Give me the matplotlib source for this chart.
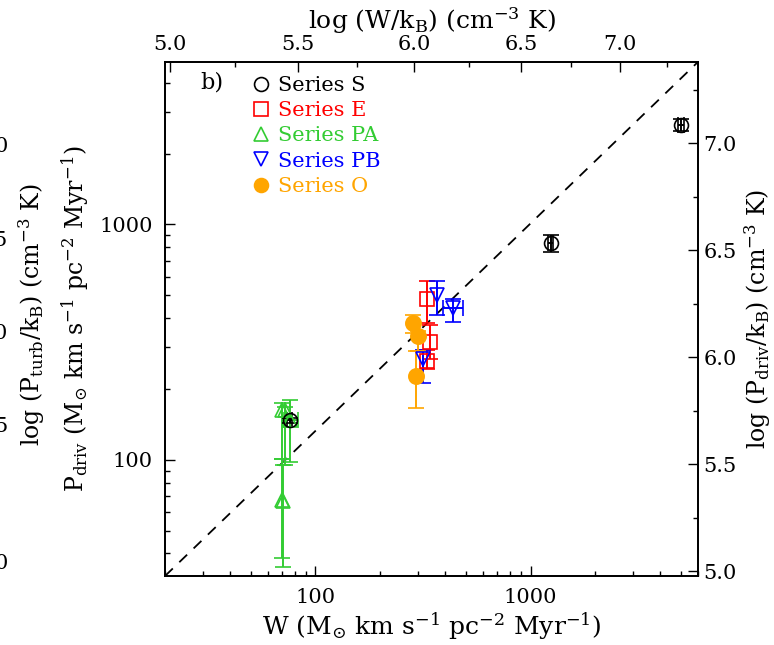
import matplotlib
matplotlib.use('Agg')
import matplotlib.pyplot as plt
import numpy as np
from matplotlib.lines import Line2D
from matplotlib.ticker import FixedLocator, FixedFormatter, NullFormatter, LogLocator

plt.rcParams['font.family'] = 'DejaVu Serif'
plt.rcParams['mathtext.fontset'] = 'dejavuserif'

# Series S (black open circles)
s_w = [76, 1240, 4980]
s_w_lo = [74, 1207, 4820]
s_w_hi = [78, 1274, 5150]
s_p = [147, 830, 2638]
s_p_lo = [143, 767, 2489]
s_p_hi = [151, 898, 2799]

# Series E (red open squares)
e_w = [329, 341, 329]
e_p = [480, 318, 262]
e_p_lo = [383, 267, 242]
e_p_hi = [574, 375, 294]

# Series PA (green up triangles)
pa_w = [70, 72.5, 70, 71, 76]
pa_w_lo = [70, 72.5, 70, 71, 70.6]
pa_w_hi = [70, 72.5, 70, 71, 83]
pa_p = [163, 162, 67.6, 67, 147]
pa_p_lo = [101, 95, 38.3, 35.1, 98]
pa_p_hi = [175, 168, 101, 95, 180]

# Series PB (blue down triangles)
pb_w = [366, 437, 317]
pb_w_lo = [366, 392, 317]
pb_w_hi = [366, 485, 317]
pb_p = [503, 443, 267]
pb_p_lo = [414, 384, 213]
pb_p_hi = [574, 484, 294]

# Series O (orange filled circles)
o_w = [285, 301, 293]
o_p = [382, 335, 228]
o_p_lo = [347, 289, 166]
o_p_hi = [414, 352, 289]

# reference line
line_w = [20, 6000]
line_p = [32.1, 4900]

labels = ['Series S', 'Series E', 'Series PA', 'Series PB', 'Series O']
colors = ['black', '#ff0000', '#33cc33', '#0000ff', '#ffa500']

top_ticks = [5.0, 5.5, 6.0, 6.5, 7.0]
right_ticks = [5.0, 5.5, 6.0, 6.5, 7.0]
left_cut_labels = ['7.0', '6.5', '6.0', '5.5', '5.0']


def err(v, lo, hi):
    v = np.array(v, float)
    return [v - np.array(lo, float), np.array(hi, float) - v]


fig = plt.figure(figsize=(7.74, 6.45), dpi=100)
ax = fig.add_axes([0.2132, 0.107, 0.6886, 0.797])
ax.set_xscale('log')
ax.set_yscale('log')
ax.set_xlim(20, 6000)
ax.set_ylim(32.1, 4900)

ax.plot(line_w, line_p, 'k--', lw=1.3, dashes=(6, 5))

eb = dict(ls='none', capsize=6, elinewidth=1.4, capthick=1.4, mew=1.2)
ax.errorbar(pa_w, pa_p, xerr=err(pa_w, pa_w_lo, pa_w_hi), yerr=err(pa_p, pa_p_lo, pa_p_hi),
            marker='^', ms=10, mfc='none', color=colors[2], **eb)
ax.errorbar(s_w, s_p, xerr=err(s_w, s_w_lo, s_w_hi), yerr=err(s_p, s_p_lo, s_p_hi),
            marker='o', ms=10, mfc='none', color=colors[0], **eb)
ax.errorbar(e_w, e_p, yerr=err(e_p, e_p_lo, e_p_hi),
            marker='s', ms=10, mfc='none', color=colors[1], **eb)
ax.errorbar(pb_w, pb_p, xerr=err(pb_w, pb_w_lo, pb_w_hi), yerr=err(pb_p, pb_p_lo, pb_p_hi),
            marker='v', ms=10, mfc='none', color=colors[3], **eb)
ax.errorbar(o_w, o_p, yerr=err(o_p, o_p_lo, o_p_hi),
            marker='o', ms=11, color=colors[4], **eb)

fs = 15
lfs = 17
tk = dict(direction='in', which='major', length=7, width=1)
tkm = dict(direction='in', which='minor', length=3.5, width=1)

ax.xaxis.set_major_locator(FixedLocator([100, 1000]))
ax.xaxis.set_major_formatter(FixedFormatter(['100', '1000']))
ax.yaxis.set_major_locator(FixedLocator([100, 1000]))
ax.yaxis.set_major_formatter(FixedFormatter(['100', '1000']))
ax.xaxis.set_minor_locator(LogLocator(subs=np.arange(2, 10)))
ax.yaxis.set_minor_locator(LogLocator(subs=np.arange(2, 10)))
ax.xaxis.set_minor_formatter(NullFormatter())
ax.yaxis.set_minor_formatter(NullFormatter())
ax.tick_params(axis='both', labelsize=fs, top=False, right=False, pad=9, **tk)
ax.tick_params(axis='both', top=False, right=False, **tkm)
ax.set_xlabel(r'W (M$_{\odot}$ km s$^{-1}$ pc$^{-2}$ Myr$^{-1}$)', fontsize=18, labelpad=2)
ax.set_ylabel(r'P$_{\rm driv}$ (M$_{\odot}$ km s$^{-1}$ pc$^{-2}$ Myr$^{-1}$)', fontsize=lfs, labelpad=6)

# top axis
axt = ax.twiny()
axt.set_xscale('log')
axt.set_xlim(4.981, 7.42)
axt.xaxis.set_major_locator(FixedLocator(top_ticks))
axt.xaxis.set_major_formatter(FixedFormatter(['%.1f' % t for t in top_ticks]))
axt.xaxis.set_minor_locator(FixedLocator([5.25, 5.75, 6.25, 6.75, 7.25]))
axt.xaxis.set_minor_formatter(NullFormatter())
axt.tick_params(axis='x', labelsize=fs, pad=6, **tk)
axt.tick_params(axis='x', **tkm)
axt.set_xlabel(r'log (W/k$_{\rm B}$) (cm$^{-3}$ K)', fontsize=18, labelpad=4)

# right axis
axr = ax.twinx()
axr.set_ylim(4.977, 7.38)
axr.yaxis.set_major_locator(FixedLocator(right_ticks))
axr.yaxis.set_major_formatter(FixedFormatter(['%.1f' % t for t in right_ticks]))
axr.yaxis.set_minor_locator(FixedLocator(np.arange(5.25, 7.3, 0.5)))
axr.tick_params(axis='y', labelsize=fs, pad=4, **tk)
axr.tick_params(axis='y', **tkm)
axr.set_ylabel(r'log (P$_{\rm driv}$/k$_{\rm B}$) (cm$^{-3}$ K)', fontsize=lfs, labelpad=4)

for a in (ax, axt, axr):
    for sp in a.spines.values():
        sp.set_linewidth(1.1)

# legend
markers = ['o', 's', '^', 'v', 'o']
handles = [Line2D([], [], ls='none', marker=m, ms=10, mew=1.2, color=c,
                  mfc=(c if i == 4 else 'none')) for i, (m, c) in enumerate(zip(markers, colors))]
ax.legend(handles, labels, loc='upper left', bbox_to_anchor=(0.165, 0.973), frameon=False,
          fontsize=15, labelcolor=colors, handlelength=0.75, handletextpad=0.45,
          borderpad=0, borderaxespad=0, labelspacing=0.30)
ax.text(0.0876, 0.959, 'b)', transform=ax.transAxes, fontsize=16, ha='center', va='center')

# cut-off labels from the neighbouring panel
fig.text(0.041, 0.512, r'log (P$_{\rm turb}$/k$_{\rm B}$) (cm$^{-3}$ K)', rotation=90,
         fontsize=lfs, ha='center', va='center')
for lab, yy in zip(left_cut_labels, [0.7726, 0.6279, 0.4837, 0.3384, 0.1256]):
    fig.text(0.0105, yy, lab, fontsize=fs, ha='right', va='center')

fig.savefig('out.png', dpi=100)
